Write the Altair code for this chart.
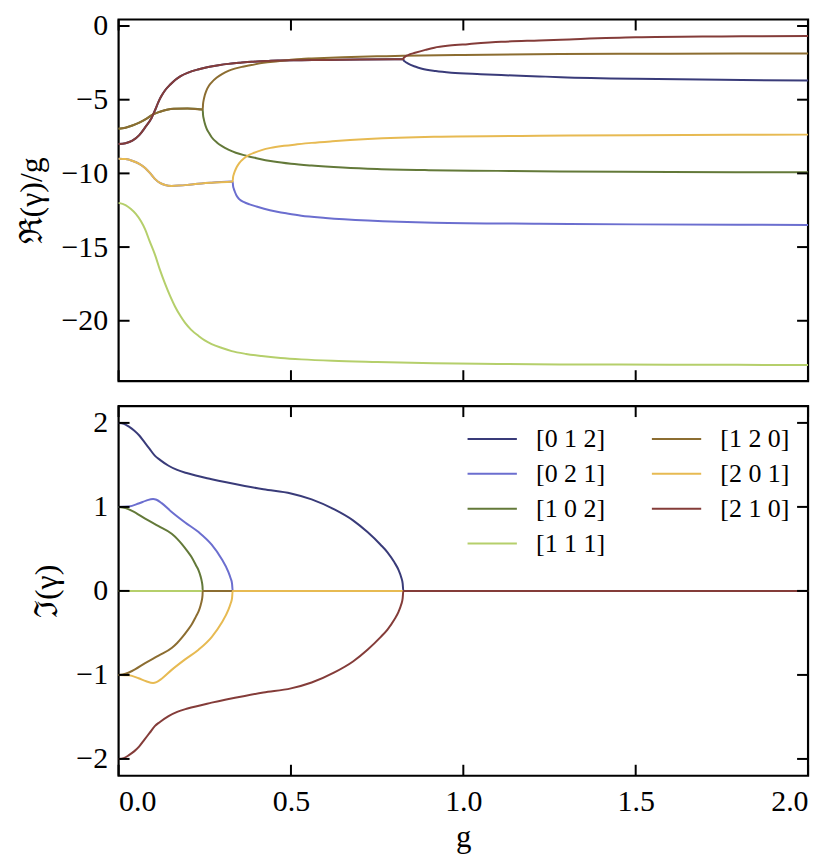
import altair as alt
import pandas as pd

FONT = "Liberation Serif"

SERIES = ["[0 1 2]", "[0 2 1]", "[1 0 2]", "[1 1 1]", "[1 2 0]", "[2 0 1]", "[2 1 0]"]
COLORS = ["#393b79", "#6b6ecf", "#637939", "#b5cf6b", "#8c6d31", "#e7ba52", "#843c39"]

X_TICKS = [0.0, 0.5, 1.0, 1.5, 2.0]
RE_TICKS = [-20, -15, -10, -5, 0]
IM_TICKS = [-2, -1, 0, 1, 2]

# ---------------- real part / g ----------------
G_RE_012 = [0, 0.02, 0.04, 0.06, 0.077, 0.096, 0.106, 0.116, 0.125, 0.135, 0.15, 0.164, 0.18,
            0.202, 0.23, 0.26, 0.29, 0.318, 0.35, 0.385, 0.43, 0.462, 0.53, 0.6, 0.7, 0.8, 0.826,
            0.827, 0.83, 0.84, 0.86, 0.88, 0.92, 0.965, 1.05, 1.11, 1.22, 1.283, 1.5, 1.75, 2.0]
RE_012 = [-8.0, -7.95, -7.78, -7.4, -6.88, -6.22, -5.7, -5.13, -4.72, -4.36, -3.97, -3.66, -3.4,
          -3.16, -2.95, -2.78, -2.66, -2.57, -2.5, -2.43, -2.38, -2.34, -2.32, -2.3, -2.28, -2.26, -2.25,
          -2.33, -2.4, -2.55, -2.75, -2.9, -3.06, -3.17, -3.27, -3.33, -3.42, -3.47, -3.58, -3.65, -3.7]

G_RE_210 = [0, 0.02, 0.04, 0.06, 0.077, 0.096, 0.106, 0.116, 0.125, 0.135, 0.15, 0.164, 0.18,
            0.202, 0.23, 0.26, 0.29, 0.318, 0.35, 0.385, 0.43, 0.462, 0.53, 0.6, 0.7, 0.8, 0.826,
            0.827, 0.83, 0.84, 0.86, 0.89, 0.916, 0.96, 1.013, 1.11, 1.22, 1.283, 1.5, 1.75, 2.0]
RE_210 = [-8.0, -7.95, -7.78, -7.4, -6.88, -6.22, -5.7, -5.13, -4.72, -4.36, -3.97, -3.66, -3.4,
          -3.16, -2.95, -2.78, -2.66, -2.57, -2.5, -2.43, -2.38, -2.34, -2.32, -2.3, -2.28, -2.26, -2.25,
          -2.17, -2.1, -1.97, -1.82, -1.62, -1.47, -1.33, -1.23, -1.07, -0.98, -0.93, -0.77, -0.71, -0.68]

G_RE_102 = [0, 0.02, 0.04, 0.06, 0.08, 0.1, 0.12, 0.14, 0.16, 0.2, 0.244,
            0.245, 0.247, 0.25, 0.255, 0.262, 0.27, 0.285, 0.3, 0.32, 0.34, 0.37, 0.4, 0.45, 0.5,
            0.56, 0.65, 0.75, 0.9, 1.1, 1.28, 1.6, 2.0]
RE_102 = [-6.97, -6.9, -6.75, -6.55, -6.3, -6.0, -5.82, -5.68, -5.61, -5.59, -5.66,
          -6.03, -6.3, -6.6, -6.95, -7.25, -7.55, -7.9, -8.15, -8.4, -8.6, -8.8, -8.97, -9.2, -9.35,
          -9.47, -9.6, -9.7, -9.78, -9.83, -9.87, -9.9, -9.93]

G_RE_120 = [0, 0.02, 0.04, 0.06, 0.08, 0.1, 0.12, 0.14, 0.16, 0.2, 0.244,
            0.245, 0.247, 0.25, 0.255, 0.262, 0.27, 0.285, 0.3, 0.32, 0.337, 0.36, 0.385, 0.42, 0.462,
            0.5, 0.53, 0.56, 0.65, 0.75, 0.826, 1.0, 1.28, 1.6, 2.0]
RE_120 = [-6.97, -6.9, -6.75, -6.55, -6.3, -6.0, -5.82, -5.68, -5.61, -5.59, -5.66,
          -5.3, -5.0, -4.7, -4.36, -4.05, -3.82, -3.5, -3.26, -3.03, -2.89, -2.76, -2.65, -2.5, -2.39,
          -2.29, -2.23, -2.2, -2.12, -2.06, -2.02, -1.96, -1.9, -1.88, -1.86]

G_RE_021 = [0, 0.02, 0.039, 0.06, 0.077, 0.092, 0.106, 0.12, 0.135, 0.154, 0.175, 0.2, 0.222, 0.27, 0.331,
            0.332, 0.334, 0.337, 0.342, 0.35, 0.364, 0.38, 0.4, 0.422, 0.46, 0.489, 0.53, 0.6, 0.723,
            0.915, 1.22, 1.5, 2.0]
RE_021 = [-9.0, -9.03, -9.14, -9.35, -9.63, -10.0, -10.39, -10.65, -10.79, -10.85, -10.83, -10.78, -10.72,
          -10.63, -10.55,
          -10.83, -11.03, -11.23, -11.5, -11.75, -11.95, -12.1, -12.25, -12.4, -12.6, -12.72, -12.87,
          -13.02, -13.2, -13.35, -13.42, -13.46, -13.5]

G_RE_201 = [0, 0.02, 0.039, 0.06, 0.077, 0.092, 0.106, 0.12, 0.135, 0.154, 0.175, 0.2, 0.222, 0.27, 0.331,
            0.332, 0.334, 0.337, 0.342, 0.35, 0.364, 0.38, 0.393, 0.415, 0.441, 0.48, 0.518, 0.56, 0.62,
            0.723, 0.915, 1.22, 1.5, 2.0]
RE_201 = [-9.0, -9.03, -9.14, -9.35, -9.63, -10.0, -10.39, -10.65, -10.79, -10.85, -10.83, -10.78, -10.72,
          -10.63, -10.55,
          -10.27, -10.07, -9.87, -9.6, -9.3, -8.97, -8.73, -8.6, -8.42, -8.27, -8.13, -8.03, -7.93, -7.82,
          -7.67, -7.52, -7.45, -7.41, -7.37]

G_RE_111 = [0, 0.02, 0.035, 0.05, 0.065, 0.077, 0.09, 0.106, 0.12, 0.135, 0.15, 0.164, 0.18, 0.193,
            0.21, 0.232, 0.25, 0.27, 0.3, 0.328, 0.37, 0.415, 0.47, 0.53, 0.62, 0.75, 0.915, 1.1, 1.28,
            1.6, 2.0]
RE_111 = [-12.0, -12.15, -12.4, -12.75, -13.25, -13.8, -14.6, -15.55, -16.55, -17.5, -18.35, -19.05,
          -19.7, -20.15, -20.6, -21.03, -21.33, -21.58, -21.85, -22.06, -22.25, -22.39, -22.52, -22.62,
          -22.72, -22.8, -22.88, -22.93, -22.96, -22.98, -23.0]

# ---------------- imaginary part ----------------
G_IM_012 = [0, 0.015, 0.03, 0.045, 0.06, 0.075, 0.09, 0.105, 0.12, 0.145, 0.17, 0.2, 0.27, 0.366, 0.42,
            0.5, 0.56, 0.626, 0.68, 0.722, 0.76, 0.78, 0.8, 0.812, 0.82, 0.824, 0.826, 2.0]
IM_012 = [2.0, 1.99, 1.955, 1.91, 1.85, 1.77, 1.69, 1.61, 1.56, 1.49, 1.44, 1.40, 1.33, 1.25, 1.21,
          1.16, 1.09, 0.97, 0.84, 0.7, 0.55, 0.46, 0.34, 0.25, 0.16, 0.09, 0.0, 0.0]
G_IM_210 = [0, 0.015, 0.03, 0.045, 0.06, 0.075, 0.09, 0.105, 0.12, 0.145, 0.17, 0.2, 0.27, 0.366, 0.42,
            0.5, 0.56, 0.626, 0.68, 0.722, 0.76, 0.78, 0.8, 0.812, 0.82, 0.824, 0.826, 2.0]
IM_210 = [-2.0, -1.99, -1.955, -1.91, -1.85, -1.77, -1.69, -1.61, -1.56, -1.49, -1.44, -1.40, -1.33,
          -1.25, -1.21, -1.16, -1.09, -0.97, -0.84, -0.7, -0.55, -0.46, -0.34, -0.25, -0.16, -0.09,
          0.0, 0.0]

G_IM_021 = [0, 0.03, 0.058, 0.08, 0.1, 0.11, 0.125, 0.154, 0.193, 0.232, 0.27, 0.299, 0.318, 0.325,
            0.329, 0.331, 2.0]
IM_021 = [1.0, 1.005, 1.04, 1.075, 1.095, 1.085, 1.045, 0.94, 0.815, 0.7, 0.55, 0.38, 0.23, 0.15,
          0.09, 0.0, 0.0]
G_IM_201 = [0, 0.03, 0.058, 0.08, 0.1, 0.11, 0.125, 0.154, 0.193, 0.232, 0.27, 0.299, 0.318, 0.325,
            0.329, 0.331, 2.0]
IM_201 = [-1.0, -1.005, -1.04, -1.075, -1.095, -1.085, -1.045, -0.94, -0.815, -0.7, -0.55, -0.38,
          -0.23, -0.15, -0.09, 0.0, 0.0]

G_IM_102 = [0, 0.02, 0.039, 0.077, 0.116, 0.154, 0.17, 0.183, 0.2, 0.212, 0.225, 0.232, 0.238, 0.241,
            0.2435, 0.244, 2.0]
IM_102 = [1.0, 0.985, 0.953, 0.86, 0.77, 0.68, 0.62, 0.56, 0.47, 0.4, 0.3, 0.244, 0.17, 0.12, 0.05,
          0.0, 0.0]
G_IM_120 = [0, 0.02, 0.039, 0.077, 0.116, 0.154, 0.17, 0.183, 0.2, 0.212, 0.225, 0.232, 0.238, 0.241,
            0.2435, 0.244, 2.0]
IM_120 = [-1.0, -0.985, -0.953, -0.86, -0.77, -0.68, -0.62, -0.56, -0.47, -0.4, -0.3, -0.244, -0.17,
          -0.12, -0.05, 0.0, 0.0]

G_IM_111 = [0.0, 2.0]
IM_111 = [0.0, 0.0]

RE_DATA = {"[0 1 2]": (G_RE_012, RE_012), "[0 2 1]": (G_RE_021, RE_021), "[1 0 2]": (G_RE_102, RE_102),
           "[1 1 1]": (G_RE_111, RE_111), "[1 2 0]": (G_RE_120, RE_120), "[2 0 1]": (G_RE_201, RE_201),
           "[2 1 0]": (G_RE_210, RE_210)}
IM_DATA = {"[0 1 2]": (G_IM_012, IM_012), "[0 2 1]": (G_IM_021, IM_021), "[1 0 2]": (G_IM_102, IM_102),
           "[1 1 1]": (G_IM_111, IM_111), "[1 2 0]": (G_IM_120, IM_120), "[2 0 1]": (G_IM_201, IM_201),
           "[2 1 0]": (G_IM_210, IM_210)}


def long_frame(d):
    rows = []
    for s, (gs, vs) in d.items():
        for g, v in zip(gs, vs):
            rows.append({"series": s, "g": g, "val": v})
    return pd.DataFrame(rows)


re_df = long_frame(RE_DATA)
im_df = long_frame(IM_DATA)

W = 692
H_TOP = 363
H_BOT = 371
TICK = 11

xscale = alt.Scale(domain=[0, 2], nice=False, zero=False)


def panel(df, ydomain, yticks, ytitle, height, bottom):
    yscale = alt.Scale(domain=ydomain, nice=False, zero=False)
    if bottom:
        xaxis = alt.Axis(values=X_TICKS, format=".1f", title="g", ticks=False, domain=False, grid=False,
                         labelPadding=11, titlePadding=6, labelFont=FONT, titleFont=FONT,
                         labelFontSize=30, titleFontSize=31, labelColor="black", titleColor="black",
                         titleFontWeight="normal")
        legend = alt.Legend(orient="none", legendX=349, legendY=20, columns=2, title=None,
                            symbolType="stroke", symbolSize=2450, symbolStrokeWidth=2,
                            labelFontSize=26, labelFont=FONT, labelColor="black", labelOffset=18,
                            rowPadding=9, columnPadding=45, clipHeight=26, padding=0, labelLimit=0)
    else:
        xaxis = None
        legend = None
    yaxis = alt.Axis(values=yticks, title=ytitle, ticks=False, domain=False, grid=False,
                     labelPadding=11, titlePadding=12, labelFont=FONT, titleFont=FONT,
                     labelFontSize=30, titleFontSize=32, labelColor="black", titleColor="black",
                     titleFontWeight="normal")
    color = alt.Color("series:N", scale=alt.Scale(domain=SERIES, range=COLORS), legend=legend)
    X = alt.X("g:Q", scale=xscale, axis=xaxis)
    Y = alt.Y("val:Q", scale=yscale, axis=yaxis)
    layers = []
    for s in SERIES:
        layers.append(
            alt.Chart(df).transform_filter(alt.datum.series == s)
            .mark_line(strokeWidth=2, interpolate="monotone")
            .encode(x=X, y=Y, color=color)
        )
    xt = pd.DataFrame({"g": X_TICKS})
    yt = pd.DataFrame({"val": yticks})
    layers.append(alt.Chart(xt).mark_rule(color="black", strokeWidth=2)
                  .encode(x=X, y=alt.value(0), y2=alt.value(TICK)))
    layers.append(alt.Chart(xt).mark_rule(color="black", strokeWidth=2)
                  .encode(x=X, y=alt.value(height), y2=alt.value(height - TICK)))
    layers.append(alt.Chart(yt).mark_rule(color="black", strokeWidth=2)
                  .encode(y=Y, x=alt.value(0), x2=alt.value(TICK)))
    layers.append(alt.Chart(yt).mark_rule(color="black", strokeWidth=2)
                  .encode(y=Y, x=alt.value(W), x2=alt.value(W - TICK)))
    return alt.layer(*layers).properties(width=W, height=height)


top = panel(re_df, [-24.1, 0.44], RE_TICKS, "ℜ(γ)/g", H_TOP, False)
bot = panel(im_df, [-2.2, 2.2], IM_TICKS, "ℑ(γ)", H_BOT, True)

chart = (
    alt.vconcat(top, bot, spacing=19)
    .resolve_scale(color="independent")
    .resolve_legend(color="independent")
    .properties(padding={"left": 6, "top": 0, "right": 8, "bottom": 0}, background="white")
    .configure(font=FONT)
    .configure_view(stroke="black", strokeWidth=2.2)
    .configure_axis(labelFont=FONT, labelFontSize=30, labelColor="black",
                    titleFont=FONT, titleFontSize=30, titleFontWeight="normal", titleColor="black")
)

chart.save("out.html", embed_options={"renderer": "svg", "actions": False})
